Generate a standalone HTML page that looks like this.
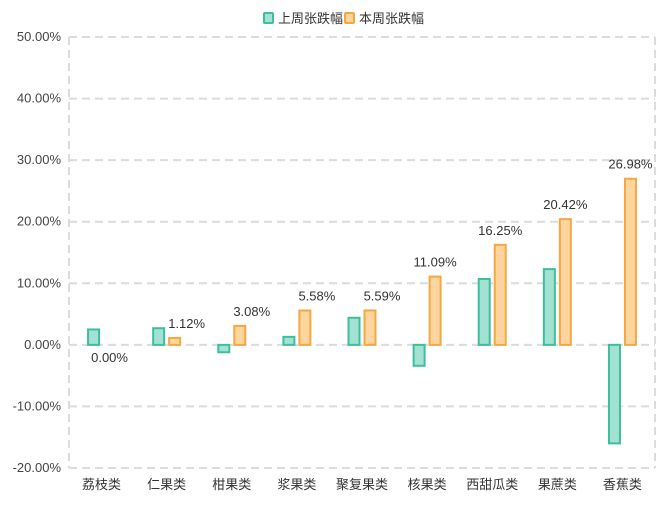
<!DOCTYPE html>
<html><head><meta charset="utf-8"><style>
body{margin:0;background:#fff;width:666px;height:502px;overflow:hidden;font-family:"Liberation Sans","Noto Sans CJK SC",sans-serif}
</style></head><body>
<svg id="c" width="666" height="502" xmlns="http://www.w3.org/2000/svg"></svg>
<script>
const categories=["荔枝类","仁果类","柑果类","浆果类","聚复果类","核果类","西甜瓜类","果蔗类","香蕉类"];
const lastWeek=[2.5,2.7,-1.2,1.3,4.4,-3.4,10.7,12.3,-16.0];
const thisWeek=[0.00,1.12,3.08,5.58,5.59,11.09,16.25,20.42,26.98];
const yTicks=[-20,-10,0,10,20,30,40,50];
const NS="http://www.w3.org/2000/svg";
const svg=document.getElementById('c');
const L=69,R=655,T=37,B=468,yMin=-20,yMax=50;
const y=v=>B-(v-yMin)/(yMax-yMin)*(B-T);
const band=(R-L)/categories.length;
const xc=i=>L+band*(i+0.5);
function mk(tag,attrs,parent){const e=document.createElementNS(NS,tag);for(const k in attrs)e.setAttribute(k,attrs[k]);(parent||svg).appendChild(e);return e;}
const grid=mk('g',{});


yTicks.forEach(t=>{
  const ln=mk('line',{x1:L,x2:R,y1:y(t),y2:y(t),stroke:'#dcdcdc','stroke-width':2,'stroke-dasharray':'8,5'},grid);
  
  
  const tx=mk('text',{x:L-8,y:y(t)+4,'text-anchor':'end','font-size':13,fill:'#444'});
  tx.textContent=t.toFixed(2)+'%';
  
  
});
[L,R].forEach(xx=>{
  const v=mk('line',{x1:xx,x2:xx,y1:T,y2:B,stroke:'#dcdcdc','stroke-width':2,'stroke-dasharray':'8,5'},grid);
  
  
});
categories.forEach((c,i)=>{
  const tx=mk('text',{x:xc(i),y:489,'text-anchor':'middle','font-size':13,fill:'#333'});
  tx.textContent=c;
  
  
  const a=lastWeek[i],b=thisWeek[i],w=11;
  const r1=mk('rect',{x:xc(i)-8-w/2,y:Math.min(y(a),y(0)),width:w,height:Math.max(Math.abs(y(a)-y(0)),0.5),fill:'#a3e2d3',stroke:'#3dbf9e','stroke-width':2});
  
  
  if(b!==0){
    const r2=mk('rect',{x:xc(i)+8-w/2,y:Math.min(y(b),y(0)),width:w,height:Math.abs(y(b)-y(0)),fill:'#ffd59e',stroke:'#f5a742','stroke-width':2});
    
    
  }
  const small=b>0&&b<6;
  const ly=b>0?y(b)-10:y(0)+17;
  const lb=mk('text',{x:xc(i)+8+(small?12:0),y:ly,'text-anchor':'middle','font-size':13,fill:'#333'});
  lb.textContent=b.toFixed(2)+'%';
  
  
});
const lg=mk('g',{});


const items=[["上周张跌幅",'#a3e2d3','#3dbf9e',264],["本周张跌幅",'#ffd59e','#f5a742',345]];
items.forEach(it=>{
  const g=mk('g',{},lg);
  
  
  mk('rect',{x:it[3],y:13,width:9,height:10,fill:it[1],stroke:it[2],'stroke-width':2,rx:1},g);
  const t=mk('text',{x:it[3]+14,y:23,'font-size':13,fill:'#333'},g);
  t.textContent=it[0];
});
</script>
</body></html>
